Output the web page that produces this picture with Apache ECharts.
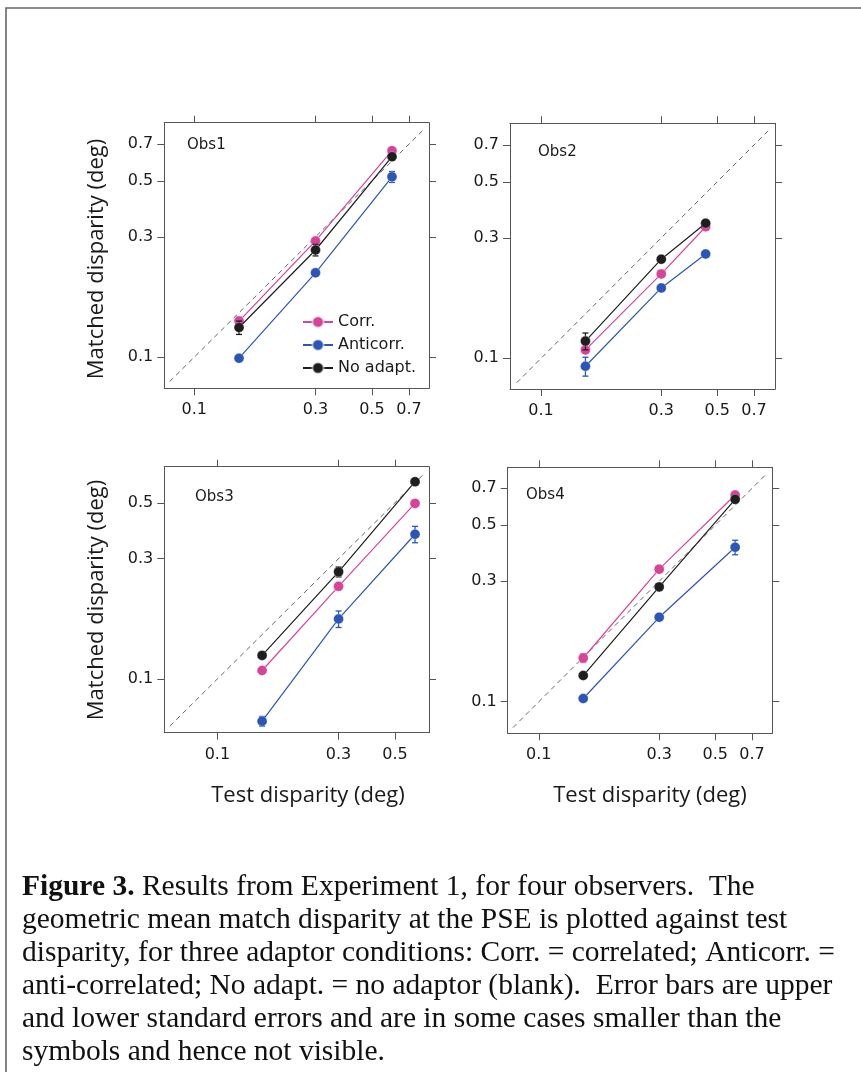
<!DOCTYPE html>
<html><head><meta charset="utf-8">
<script src="https://cdn.jsdelivr.net/npm/echarts@6/dist/echarts.min.js"></script>
<style>html,body{margin:0;padding:0;background:#fff;} #chart{width:861px;height:1072px;}</style>
</head><body><div id="chart"></div>
<script>
// ---------- data ----------
const tickValues = [0.1, 0.3, 0.5, 0.7];
const panelNames = ['Obs1', 'Obs2', 'Obs3', 'Obs4'];
const seriesNames = ['Corr.', 'Anticorr.', 'No adapt.'];

const testObs1 = [0.15, 0.3, 0.6];
const testObs2 = [0.15, 0.3, 0.45];
const testObs3 = [0.15, 0.3, 0.6];
const testObs4 = [0.15, 0.3, 0.6];

const corrObs1 = [0.139, 0.289, 0.659];
const antiObs1 = [0.099, 0.216, 0.519];
const noadObs1 = [0.131, 0.266, 0.624];
const corrObs2 = [0.108, 0.216, 0.332];
const antiObs2 = [0.093, 0.190, 0.259];
const noadObs2 = [0.117, 0.247, 0.343];
const corrObs3 = [0.108, 0.233, 0.497];
const antiObs3 = [0.068, 0.173, 0.375];
const noadObs3 = [0.124, 0.266, 0.606];
const corrObs4 = [0.149, 0.335, 0.659];
const antiObs4 = [0.103, 0.216, 0.409];
const noadObs4 = [0.127, 0.285, 0.633];

// standard errors (deg)
const corrSeObs1 = [0.005, 0.004, 0.008];
const antiSeObs1 = [0.002, 0.003, 0.026];
const noadSeObs1 = [0.008, 0.014, 0.008];
const corrSeObs2 = [0.003, 0.003, 0.005];
const antiSeObs2 = [0.008, 0.003, 0.004];
const noadSeObs2 = [0.009, 0.004, 0.006];
const corrSeObs3 = [0.002, 0.004, 0.006];
const antiSeObs3 = [0.003, 0.013, 0.028];
const noadSeObs3 = [0.003, 0.012, 0.008];
const corrSeObs4 = [0.006, 0.005, 0.008];
const antiSeObs4 = [0.002, 0.005, 0.027];
const noadSeObs4 = [0.002, 0.004, 0.008];

const captionLead = 'Figure 3.';
const captionLines = [
  'Results from Experiment 1, for four observers.  The',
  'geometric mean match disparity at the PSE is plotted against test',
  'disparity, for three adaptor conditions: Corr. = correlated; Anticorr. =',
  'anti-correlated; No adapt. = no adaptor (blank).  Error bars are upper',
  'and lower standard errors and are in some cases smaller than the',
  'symbols and hence not visible.'
];

// ---------- layout / style ----------
const colors = ['#d6449a', '#2d55b4', '#1e1e1e'];
const FONT = 'DejaVu Sans';
const panels = [
  { box: [164.3, 122.7, 264.7, 265.6], xr: [0.0762, 0.839], yr: [0.0752, 0.851], diag: [0.080, 0.795], title: [187, 148],
    test: testObs1, vals: [corrObs1, antiObs1, noadObs1], se: [corrSeObs1, antiSeObs1, noadSeObs1] },
  { box: [510, 123.3, 265, 265.7], xr: [0.0753, 0.848], yr: [0.0756, 0.853], diag: [0.080, 0.805], title: [538, 155],
    test: testObs2, vals: [corrObs2, antiObs2, noadObs2], se: [corrSeObs2, antiSeObs2, noadSeObs2] },
  { box: [164.3, 466.7, 264.7, 266], xr: [0.0618, 0.681], yr: [0.0612, 0.695], diag: [0.065, 0.645], title: [195, 500],
    test: testObs3, vals: [corrObs3, antiObs3, noadObs3], se: [corrSeObs3, antiSeObs3, noadSeObs3] },
  { box: [507.7, 467.3, 264.6, 266], xr: [0.0753, 0.842], yr: [0.075, 0.848], diag: [0.079, 0.795], title: [526, 498],
    test: testObs4, vals: [corrObs4, antiObs4, noadObs4], se: [corrSeObs4, antiSeObs4, noadSeObs4] }
];

const axisLineStyle = { color: '#555', width: 1 };
const labelFmt = v => String(Math.round(v * 10) / 10);

const grid = [], xAxis = [], yAxis = [], series = [], graphic = [];

panels.forEach((p, i) => {
  grid.push({ left: p.box[0], top: p.box[1], width: p.box[2], height: p.box[3], containLabel: false });
  ['bottom', 'top'].forEach((pos, k) => {
    xAxis.push({
      type: 'log', gridIndex: i, position: pos, min: p.xr[0], max: p.xr[1],
      axisLine: { show: true, onZero: false, lineStyle: axisLineStyle },
      axisTick: { show: true, length: 7, customValues: tickValues, lineStyle: axisLineStyle },
      axisLabel: { show: k === 0, customValues: tickValues, margin: 14, fontFamily: FONT, fontSize: 16, color: '#1a1a1a', formatter: labelFmt },
      splitLine: { show: false }, minorTick: { show: false }
    });
  });
  ['left', 'right'].forEach((pos, k) => {
    yAxis.push({
      type: 'log', gridIndex: i, position: pos, min: p.yr[0], max: p.yr[1],
      axisLine: { show: true, onZero: false, lineStyle: axisLineStyle },
      axisTick: { show: true, length: 7, customValues: tickValues, lineStyle: axisLineStyle },
      axisLabel: { show: k === 0, customValues: tickValues, margin: 11, fontFamily: FONT, fontSize: 16, color: '#1a1a1a', formatter: labelFmt },
      splitLine: { show: false }, minorTick: { show: false }
    });
  });
  const xi = i * 2, yi = i * 2;
  // identity reference line
  series.push({
    type: 'line', xAxisIndex: xi, yAxisIndex: yi, silent: true, symbol: 'none',
    data: [[p.diag[0], p.diag[0]], [p.diag[1], p.diag[1]]],
    lineStyle: { color: '#666', width: 1, type: [5, 4] }, z: 1
  });
  // error bars + lines
  p.vals.forEach((vals, s) => {
    const color = colors[s];
    series.push({
      type: 'custom', name: 'se', xAxisIndex: xi, yAxisIndex: yi, silent: true, z: 2 + s,
      encode: { x: 0, y: [1, 2] },
      data: p.test.map((x, j) => [x, vals[j] - p.se[s][j], vals[j] + p.se[s][j]]),
      renderItem: (params, api) => {
        const x = api.value(0);
        const a = api.coord([x, api.value(2)]);
        const b = api.coord([x, api.value(1)]);
        const c = 3;
        const st = { stroke: color, lineWidth: 1.3 };
        return { type: 'group', children: [
          { type: 'line', shape: { x1: a[0], y1: a[1], x2: b[0], y2: b[1] }, style: st },
          { type: 'line', shape: { x1: a[0] - c, y1: a[1], x2: a[0] + c, y2: a[1] }, style: st },
          { type: 'line', shape: { x1: b[0] - c, y1: b[1], x2: b[0] + c, y2: b[1] }, style: st }
        ]};
      }
    });
    series.push({
      type: 'line', name: seriesNames[s], xAxisIndex: xi, yAxisIndex: yi, z: 2 + s,
      data: p.test.map((x, j) => [x, vals[j]]),
      symbol: 'circle', symbolSize: 10, showSymbol: true,
      lineStyle: { color: color, width: 1.2 },
      itemStyle: { color: color, borderColor: 'rgba(255,255,255,0.5)', borderWidth: 0.6 },
      emphasis: { disabled: true }, animation: false
    });
  });
  graphic.push({ type: 'text', left: p.title[0], top: p.title[1] - 10,
    style: { text: panelNames[i], font: '15px "' + FONT + '"', fill: '#1a1a1a' } });
});

// axis titles
[[97, 259], [97, 600]].forEach(c => graphic.push({
  type: 'text', x: c[0], y: c[1], rotation: Math.PI / 2,
  style: { text: 'Matched disparity (deg)', font: '22px "Open Sans"', fill: '#1a1a1a', align: 'center', verticalAlign: 'middle' }
}));
[[308, 796], [650, 796]].forEach(c => graphic.push({
  type: 'text', x: c[0], y: c[1],
  style: { text: 'Test disparity (deg)', font: '22px "Open Sans"', fill: '#1a1a1a', align: 'center', verticalAlign: 'middle' }
}));

// frame
graphic.push({ type: 'polyline', shape: { points: [[6, 1072], [6, 8], [861, 8]] }, style: { stroke: '#666', lineWidth: 1.6, fill: null } });

// caption
const capFont = '"Liberation Serif", "Times New Roman", serif';
const capSize = 29.5;
captionLines.forEach((line, k) => {
  const y = 887 + k * 33;
  const style = k === 0
    ? { text: '{b|' + captionLead + '} ' + line, fontFamily: capFont, fontSize: capSize, fill: '#111', verticalAlign: 'middle',
        rich: { b: { fontFamily: capFont, fontSize: capSize, fontWeight: 'bold', fill: '#111' } } }
    : { text: line, fontFamily: capFont, fontSize: capSize, fill: '#111', verticalAlign: 'middle' };
  graphic.push({ type: 'text', x: 22, y: y, style: style });
});

const chart = echarts.init(document.getElementById('chart'), null, { renderer: 'canvas' });
chart.setOption({
  animation: false,
  backgroundColor: '#fff',
  textStyle: { fontFamily: FONT },
  grid, xAxis, yAxis, series, graphic,
  legend: {
    data: seriesNames, orient: 'vertical', left: 302, top: 314, padding: 0,
    itemWidth: 30, itemHeight: 14, itemGap: 7, itemTextGap: 8, selectedMode: false,
    textStyle: { fontFamily: FONT, fontSize: 16, color: '#1a1a1a' }
  }
});
</script></body></html>
